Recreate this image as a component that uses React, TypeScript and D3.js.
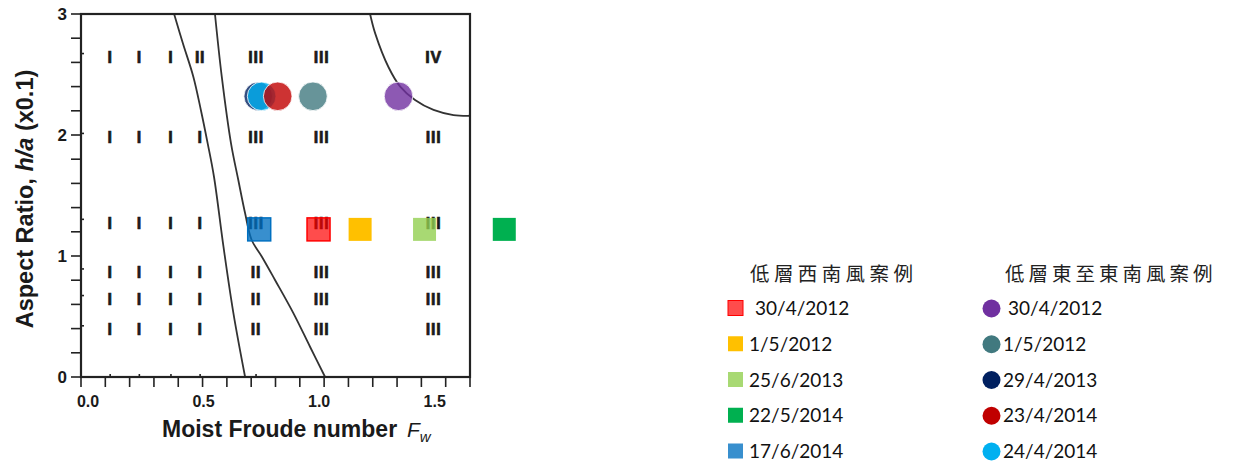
import React from 'react';
import * as d3 from 'd3';

// regime grid (rows = aspect ratio, columns = moist Froude number)
const rowRatios = [2.64, 1.98, 1.27, 0.86, 0.64, 0.39];
const colFroude = [0.12, 0.24, 0.37, 0.49, 0.72, 0.99, 1.45];
const regimeGrid = [
  ['I', 'I', 'I', 'II', 'III', 'III', 'IV'],
  ['I', 'I', 'I', 'I', 'III', 'III', 'III'],
  ['I', 'I', 'I', 'I', 'III', 'III', 'III'],
  ['I', 'I', 'I', 'I', 'II', 'III', 'III'],
  ['I', 'I', 'I', 'I', 'II', 'III', 'III'],
  ['I', 'I', 'I', 'I', 'II', 'III', 'III'],
];

// regime boundaries [Fw, h/a]
const boundaryA = [[0.383, 3.0], [0.419, 2.758], [0.462, 2.482], [0.493, 2.207], [0.521, 1.931], [0.547, 1.655], [0.586, 1.077], [0.627, 0.526], [0.675, 0]];
const boundaryB = [[0.551, 3.0], [0.579, 2.482], [0.617, 1.931], [0.647, 1.628], [0.675, 1.353], [0.702, 1.132], [0.744, 0.994], [0.798, 0.802], [0.874, 0.526], [0.942, 0.25], [1.004, 0]];
const boundaryC = [[1.189, 3.0], [1.21, 2.84], [1.265, 2.56], [1.313, 2.4], [1.374, 2.289], [1.45, 2.207], [1.532, 2.165], [1.6, 2.159]];

// low-level south-westerly cases (squares)
const swTitle = '低層西南風案例';
const swDates = ['30/4/2012', '1/5/2012', '25/6/2013', '22/5/2014', '17/6/2014'];
const swFroude = [0.977, 1.148, 1.413, 1.741, 0.733];
const swRatio = [1.22, 1.22, 1.22, 1.22, 1.22];
const swColors = ['#ff0000', '#ffc000', '#92d050', '#00b050', '#0070c0'];
const swOpacity = [0.7, 1, 0.8, 1, 0.78];

// low-level easterly to south-easterly cases (circles)
const eTitle = '低層東至東南風案例';
const eDates = ['30/4/2012', '1/5/2012', '29/4/2013', '23/4/2014', '24/4/2014'];
const eFroude = [1.306, 0.954, 0.729, 0.809, 0.743];
const eRatio = [2.32, 2.32, 2.32, 2.32, 2.32];
const eColors = ['#7030a0', '#41797f', '#002060', '#c00000', '#00b0f0'];
const eDrawOrder = [2, 4, 3, 1, 0];

const xTicks = d3.range(0, 1.61, 0.1);
const xTickLabels = ['0.0', '0.5', '1.0', '1.5'];
const yTicks = d3.range(0, 3.01, 0.2);
const yTickLabels = ['0', '1', '2', '3'];

const W = 1239;
const H = 463;

export default function App() {
  const x = d3.scaleLinear().domain([0, 1.6]).range([81, 470]);
  const y = d3.scaleLinear().domain([0, 3]).range([377, 14]);
  // tick labels in the source sit a little inside their ticks
  const xLab = d3.scaleLinear().domain([0, 1.5]).range([x(0) + 7, x(1.5) - 11]);

  const line = d3.line<number[]>()
    .x(d => x(d[0]))
    .y(d => y(d[1]))
    .curve(d3.curveCatmullRom.alpha(0.5));

  const sq = 23;
  const legendRows = d3.scaleLinear().domain([0, 4]).range([308, 451]);
  const axisFont = 'Liberation Sans, Arial, sans-serif';
  const dateFont = 'Lato, Open Sans, sans-serif';
  const cjkFont = 'Noto Sans CJK TC, sans-serif';

  return (
    <svg width={W} height={H} style={{ position: 'absolute', left: 0, top: 0, background: '#fff' }}>
      {/* axis ticks */}
      <g stroke="#222" strokeWidth={1.6}>
        {xTicks.map((t, i) => (
          <line key={'xt' + i} x1={x(t)} x2={x(t)} y1={y(0)} y2={y(0) + 10} />
        ))}
        {yTicks.map((t, i) => (
          <line key={'yt' + i} x1={x(0) - 10} x2={x(0)} y1={y(t)} y2={y(t)} />
        ))}
        {colFroude.slice(0, 5).map((c, i) => (
          <line key={'xi' + i} x1={x(c)} x2={x(c)} y1={y(0)} y2={y(0) - 3} />
        ))}
        {rowRatios.map((r, i) => (
          <line key={'yi' + i} x1={x(0)} x2={x(0) + 3} y1={y(r) - 4} y2={y(r) - 4} />
        ))}
      </g>

      {/* tick labels */}
      <g fontFamily={axisFont} fontWeight="bold" fill="#1a1a1a">
        {xTickLabels.map(l => (
          <text key={l} x={xLab(+l)} y={407} fontSize={16} textAnchor="middle">{l}</text>
        ))}
        {yTickLabels.map(l => (
          <text key={l} x={67} y={y(+l)} fontSize={17} textAnchor="end" dominantBaseline="central">{l}</text>
        ))}
      </g>

      {/* axis titles */}
      <text x={162} y={437} fontFamily={axisFont} fontWeight="bold" fontSize={23} fill="#1a1a1a">
        Moist Froude number
      </text>
      <text x={407} y={437} fontFamily={axisFont} fontStyle="italic" fontSize={21} fill="#1a1a1a">
        F<tspan fontSize={15} dy={5}>w</tspan>
      </text>
      <text
        transform="translate(32.5,199) rotate(-90)"
        textAnchor="middle"
        fontFamily={axisFont}
        fontWeight="bold"
        fontSize={23.5}
        fill="#1a1a1a"
      >
        Aspect Ratio, <tspan fontStyle="italic">h/a</tspan> (x0.1)
      </text>

      {/* regime numerals */}
      <g fontFamily={axisFont} fontWeight="bold" fontSize={16} fill="#1a1a1a" stroke="#1a1a1a" strokeWidth={0.7} textAnchor="middle">
        {regimeGrid.map((row, ri) =>
          row.map((lab, ci) => (
            <text key={ri + '-' + ci} x={x(colFroude[ci])} y={y(rowRatios[ri])} dominantBaseline="central" letterSpacing={0.8}>
              {lab}
            </text>
          ))
        )}
      </g>

      {/* boundaries */}
      <g fill="none" stroke="#333" strokeWidth={1.8}>
        <path d={line(boundaryA) || ''} />
        <path d={line(boundaryB) || ''} />
        <path d={line(boundaryC) || ''} />
      </g>

      {/* frame */}
      <rect x={x(0)} y={y(3)} width={x(1.6) - x(0)} height={y(0) - y(3)} fill="none" stroke="#222" strokeWidth={2.2} />

      {/* south-westerly cases */}
      {swDates.map((d, i) => (
        <rect
          key={'sw' + i}
          x={x(swFroude[i]) - sq / 2}
          y={y(swRatio[i]) - sq / 2}
          width={sq}
          height={sq}
          fill={swColors[i]}
          fillOpacity={swOpacity[i]}
          stroke={i === 0 || i === 4 ? swColors[i] : 'none'}
          strokeWidth={1.5}
        />
      ))}

      {/* easterly cases */}
      {eDrawOrder.map(i => (
        <circle
          key={'e' + i}
          cx={x(eFroude[i])}
          cy={y(eRatio[i])}
          r={14.3}
          fill={eColors[i]}
          fillOpacity={0.8}
          stroke="#fff"
          strokeWidth={0.8}
        />
      ))}

      {/* legend */}
      <text x={750} y={272.5} fontFamily={cjkFont} fontSize={19.5} letterSpacing={4.4} fill="#222" dominantBaseline="central">
        {swTitle}
      </text>
      <text x={1005} y={272.5} fontFamily={cjkFont} fontSize={19.5} letterSpacing={4} fill="#222" dominantBaseline="central">
        {eTitle}
      </text>
      {swDates.map((d, i) => (
        <g key={'lsw' + i}>
          <rect
            x={728}
            y={legendRows(i) - 7.5}
            width={15}
            height={15}
            fill={swColors[i]}
            fillOpacity={swOpacity[i]}
            stroke={i === 0 ? swColors[i] : 'none'}
          />
          <text x={i === 0 ? 755 : 749} y={legendRows(i) + 7} fontFamily={dateFont} fontSize={19} fill="#111">
            {d}
          </text>
        </g>
      ))}
      {eDates.map((d, i) => (
        <g key={'le' + i}>
          <circle cx={991.5} cy={legendRows(i) + 0.5} r={9} fill={eColors[i]} />
          <text x={i === 0 ? 1008 : 1003} y={legendRows(i) + 7} fontFamily={dateFont} fontSize={19} fill="#111">
            {d}
          </text>
        </g>
      ))}
    </svg>
  );
}
